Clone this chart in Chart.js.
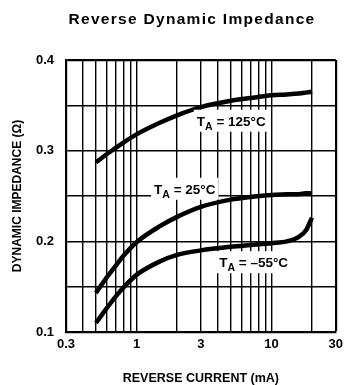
<!DOCTYPE html>
<html>
<head>
<meta charset="utf-8">
<script src="https://cdn.jsdelivr.net/npm/chart.js@4/dist/chart.umd.min.js"></script>
<style>
  html, body { margin: 0; padding: 0; background: #fff; }
  #wrap { width: 348px; height: 385px; }
</style>
</head>
<body>
<div id="wrap"><canvas id="impedanceChart"></canvas></div>
<script>
// reverse current (mA) sample points, shared by the three curves
const currents = [0.5, 0.6, 0.7, 0.8, 1, 1.5, 2, 3, 5, 7, 10, 13, 16, 18, 20];

// dynamic impedance (ohm) at each current
const imp125 = [0.287, 0.296, 0.303, 0.309, 0.318, 0.331, 0.339, 0.348, 0.355, 0.358, 0.361, 0.362, 0.363, 0.364, 0.365];
const imp25 = [0.143, 0.160, 0.173, 0.184, 0.199, 0.217, 0.227, 0.238, 0.246, 0.249, 0.251, 0.252, 0.252, 0.253, 0.253];
const impMinus55 = [0.110, 0.126, 0.139, 0.149, 0.163, 0.178, 0.185, 0.190, 0.194, 0.196, 0.198, 0.200, 0.205, 0.212, 0.226];

const seriesNames = ["125°C", "25°C", "–55°C"];

// axes
const xGridValues = [0.3, 0.4, 0.5, 0.6, 0.7, 0.8, 0.9, 1, 2, 3, 4, 5, 6, 7, 8, 9, 10, 20, 30];
const xTickLabels = [0.3, 1, 3, 10, 30];
const yGridValues = [0.1, 0.15, 0.2, 0.25, 0.3, 0.35, 0.4];
const yTickLabels = [0.1, 0.2, 0.3, 0.4];

const FONT = '"Liberation Sans", Arial, Helvetica, sans-serif';

function toPoints(values) {
  return currents.map((c, i) => ({ x: c, y: values[i] }));
}

function hasLabel(list, v) {
  return list.some((t) => Math.abs(t - v) < 1e-9);
}

/* ------------------------------- */
/* TITLE + CURVE LABELS */
/* ------------------------------- */

const textPlugin = {
  id: "textPlugin",
  afterDraw(chart) {
    const ctx = chart.ctx;
    const xs = chart.scales.x;
    const ys = chart.scales.y;

    // chart title
    ctx.save();
    ctx.fillStyle = "#000";
    ctx.font = "bold 15.5px " + FONT;
    ctx.letterSpacing = "1.3px";
    ctx.textAlign = "center";
    ctx.textBaseline = "middle";
    ctx.fillText("Reverse Dynamic Impedance", 192, 20);
    ctx.restore();

    // curve labels: anchor = left edge / vertical middle, in data units
    const anchors = [
      { x: 2.8, y: 0.333 },
      { x: 1.35, y: 0.258 },
      { x: 4.1, y: 0.177 },
    ];

    anchors.forEach((a, i) => {
      const px = xs.getPixelForValue(a.x);
      const py = ys.getPixelForValue(a.y);
      const rest = " = " + seriesNames[i];

      ctx.save();
      ctx.font = "bold 13.5px " + FONT;
      const wT = ctx.measureText("T").width;
      const wRest = ctx.measureText(rest).width;
      ctx.font = "bold 10.5px " + FONT;
      const wA = ctx.measureText("A").width;
      const total = wT + wA + wRest;

      ctx.fillStyle = "#fff";
      ctx.fillRect(px - 3, py - 11, total + 6, 22);

      ctx.fillStyle = "#000";
      ctx.textBaseline = "alphabetic";
      ctx.textAlign = "left";
      ctx.font = "bold 13.5px " + FONT;
      ctx.fillText("T", px, py + 5);
      ctx.font = "bold 10.5px " + FONT;
      ctx.fillText("A", px + wT, py + 9);
      ctx.font = "bold 13.5px " + FONT;
      ctx.fillText(rest, px + wT + wA, py + 5);
      ctx.restore();
    });
  },
};

/* ------------------------------- */
/* CHART */
/* ------------------------------- */

function lineDataset(label, values) {
  return {
    label: label,
    data: toPoints(values),
    borderColor: "#000",
    borderWidth: 4.5,
    pointRadius: 0,
    fill: false,
    cubicInterpolationMode: "monotone",
  };
}

const ctx = document.getElementById("impedanceChart").getContext("2d");

new Chart(ctx, {
  type: "line",
  data: {
    datasets: [
      lineDataset(seriesNames[0], imp125),
      lineDataset(seriesNames[1], imp25),
      lineDataset(seriesNames[2], impMinus55),
    ],
  },
  options: {
    responsive: true,
    maintainAspectRatio: false,
    animation: false,
    layout: { padding: { top: 60, right: 9, bottom: 0, left: 0 } },
    plugins: {
      legend: { display: false },
      tooltip: { enabled: false },
    },
    scales: {
      x: {
        type: "logarithmic",
        min: 0.3,
        max: 30,
        afterBuildTicks(scale) {
          scale.ticks = xGridValues.map((v) => ({ value: v }));
        },
        afterFit(scale) {
          scale.height = 53;
        },
        grid: {
          color: "#000",
          lineWidth: (c) => (c.index === xGridValues.length - 1 ? 2.2 : 1.4),
          drawTicks: false,
        },
        border: { display: true, color: "#000", width: 2.2 },
        ticks: {
          autoSkip: false,
          maxRotation: 0,
          padding: 5,
          color: "#000",
          font: { family: FONT, size: 13, weight: "bold" },
          callback: (v) => (hasLabel(xTickLabels, v) ? String(v) : ""),
        },
        title: {
          display: true,
          text: "REVERSE CURRENT (mA)",
          color: "#000",
          font: { family: FONT, size: 12.5, weight: "bold", lineHeight: 1 },
          padding: 0,
        },
      },
      y: {
        type: "linear",
        min: 0.1,
        max: 0.4,
        afterBuildTicks(scale) {
          scale.ticks = yGridValues.map((v) => ({ value: v }));
        },
        afterFit(scale) {
          scale.width = 66;
        },
        grid: {
          color: "#000",
          lineWidth: (c) => (c.index === yGridValues.length - 1 ? 2.2 : 1.4),
          drawTicks: false,
        },
        border: { display: true, color: "#000", width: 2.2 },
        ticks: {
          padding: 12,
          color: "#000",
          font: { family: FONT, size: 13, weight: "bold" },
          callback: (v) => (hasLabel(yTickLabels, v) ? v.toFixed(1) : ""),
        },
        title: {
          display: true,
          text: "DYNAMIC IMPEDANCE (Ω)",
          color: "#000",
          font: { family: FONT, size: 12, weight: "bold", lineHeight: 1 },
          padding: { top: 12, bottom: 0 },
        },
      },
    },
  },
  plugins: [textPlugin],
});
</script>
</body>
</html>
